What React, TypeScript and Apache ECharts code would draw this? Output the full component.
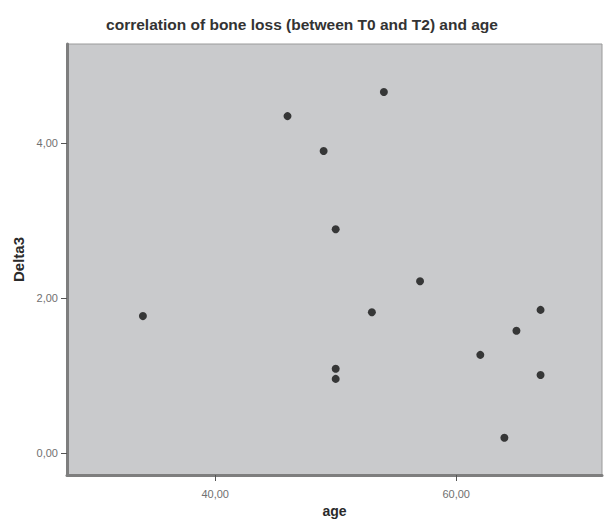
import React, { useEffect, useRef } from "react";
import * as echarts from "echarts";

const titleText = "correlation of bone loss (between T0 and T2) and age";
const xName = "age";
const yName = "Delta3";
const ages = [34, 46, 54, 49, 50, 57, 53, 67, 65, 62, 50, 50, 67, 64];
const delta3 = [1.77, 4.35, 4.66, 3.9, 2.89, 2.22, 1.82, 1.85, 1.58, 1.27, 1.09, 0.96, 1.01, 0.2];
const xTicks = [40, 60];
const yTicks = [0, 2, 4];

const fmt = (v: number) => v.toFixed(2).replace(".", ",");

export default function App() {
  const ref = useRef<HTMLDivElement>(null);
  useEffect(() => {
    if (!ref.current) return;
    const chart = echarts.init(ref.current, null, { renderer: "svg" });
    const data = ages.map((a, i) => [a, delta3[i]]);
    chart.setOption({
      animation: false,
      backgroundColor: "#ffffff",
      title: {
        text: titleText,
        left: "center",
        top: 11,
        textStyle: {
          fontFamily: "Liberation Sans, Arial, sans-serif",
          fontSize: 15.5,
          fontWeight: "bold",
          color: "#333333",
        },
      },
      grid: {
        left: 67,
        right: 2,
        top: 44,
        bottom: 45,
        containLabel: false,
        outerBoundsMode: "none",
        show: true,
        backgroundColor: "#c9cacc",
        borderColor: "#9a9a9a",
        borderWidth: 1,
      },
      xAxis: {
        type: "value",
        min: 27.7,
        max: 72.1,
        name: xName,
        nameLocation: "middle",
        nameGap: 29,
        nameTextStyle: {
          fontFamily: "Liberation Sans, Arial, sans-serif",
          fontSize: 14,
          fontWeight: "bold",
          color: "#2a2a2a",
        },
        splitLine: { show: false },
        axisLine: { show: true, onZero: false, lineStyle: { color: "#7e7e7e", width: 3 } },
        axisTick: {
          show: true,
          length: 6,
          customValues: xTicks,
          lineStyle: { color: "#555", width: 1 },
        },
        axisLabel: {
          customValues: xTicks,
          formatter: (v: number) => fmt(v),
          fontFamily: "Liberation Sans, Arial, sans-serif",
          fontSize: 11,
          color: "#707070",
          margin: 13,
        },
      },
      yAxis: {
        type: "value",
        min: -0.28,
        max: 5.28,
        name: yName,
        nameLocation: "middle",
        nameGap: 35,
        nameTextStyle: {
          fontFamily: "Liberation Sans, Arial, sans-serif",
          fontSize: 15,
          fontWeight: "bold",
          color: "#2a2a2a",
        },
        splitLine: { show: false },
        axisLine: { show: true, onZero: false, lineStyle: { color: "#7e7e7e", width: 3 } },
        axisTick: {
          show: true,
          length: 6,
          customValues: yTicks,
          lineStyle: { color: "#555", width: 1 },
        },
        axisLabel: {
          customValues: yTicks,
          formatter: (v: number) => fmt(v),
          fontFamily: "Liberation Sans, Arial, sans-serif",
          fontSize: 11,
          color: "#707070",
          margin: 9,
        },
      },
      series: [
        {
          type: "scatter",
          data,
          symbol: "circle",
          symbolSize: 8,
          itemStyle: { color: "#111111" },
        },
      ],
    });
    return () => chart.dispose();
  }, []);
  return (
    <div
      ref={ref}
      style={{ position: "fixed", left: 0, top: 0, width: 604, height: 520 }}
    />
  );
}
